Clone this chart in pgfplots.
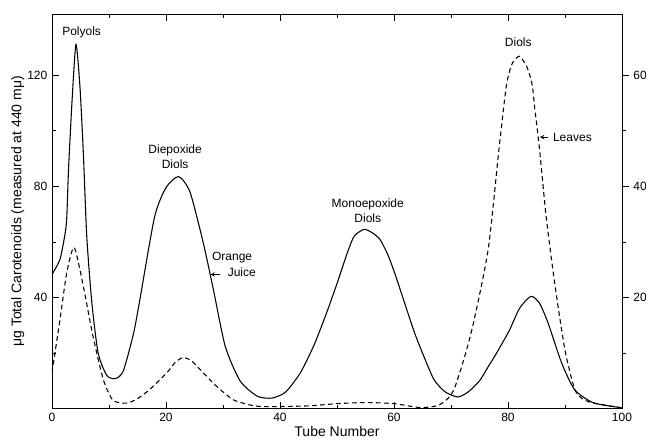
\documentclass[border=0pt]{standalone}
\usepackage{fontspec}
\setmainfont{Liberation Sans}
\usepackage{pgfplots}
\pgfplotsset{compat=1.18}

% orange juice, left axis (ug)
\pgfplotstableread{
x y
0 48.3
1.4 53.7
2.3 63
2.6 69
2.9 86
3.5 110
4.2 131
4.9 116
5.5 92
6.1 62
7.0 38
8.1 20
9.6 12
11.1 10.8
12.5 13.5
14.3 27
15.4 39
18 69
20 79.5
22.2 83.5
24.2 78
26.5 60
28.3 43
30.4 22.4
33 10
36 4.5
38.6 3.8
41 6
43.6 13
46 23
48.2 34.6
50 45
51.8 56
53 62
54.7 64.5
56 63.5
57.5 61
59 55
60.5 46.5
63.4 28.5
65 20
67 10.5
69 6
71.2 4.2
73 6
75 10
76.5 15
78 20
80.2 28
82 36
84 40.4
85.5 38
87 31
89.4 16.5
91.7 6.8
95 2.1
100 0.3
}\juice

% leaves, right axis
\pgfplotstableread{
x y
0 6.5
1.4 16
2.6 24.5
3.9 29
5.5 22
7.2 13
9 5.25
10.7 1.5
13.1 1
15 1.8
17.2 3.5
20.2 6.5
21.6 8.3
23 9.2
24.5 8.6
26.2 6.8
28.9 4
31.8 1.6
35 0.6
37.7 0.35
45 0.5
50 0.9
55 1.1
60 0.9
64.6 0.2
68 0.7
70.5 3.4
73.5 13.5
76.5 28.5
78.4 46.5
79.7 58
80.7 62
82 63.4
83.3 61.5
84.2 58.5
84.7 54
85.5 47
86.7 34.5
88.2 22.5
90 10.5
91.7 3.5
93 1.8
95 1
100 0.15
}\leaves

\begin{document}
\begin{tikzpicture}
\begin{axis}[
    scale only axis,
    width=427.5pt, height=296pt,
    xmin=0, xmax=100,
    ymin=0, ymax=142,
    xtick={0,20,...,100},
    minor xtick={10,30,...,90},
    ytick={40,80,120},
    minor ytick={20,60,100},
    ytick pos=left,
    xtick pos=both,
    tick align=inside,
    major tick length=5pt,
    minor tick length=3pt,
    every tick/.style={black, line width=0.5pt},
    axis line style={line width=0.6pt},
    /pgf/number format/assume math mode=true,
    tick label style={font=\fontsize{9}{10}\selectfont},
    xlabel={Tube Number},
    ylabel={μg Total Carotenoids (measured at 440 mμ)},
    xlabel style={font=\fontsize{10.5}{12}\selectfont, at={(rel axis cs:0.5,-0.058)}, anchor=center},
    ylabel style={font=\fontsize{10.5}{12}\selectfont, at={(rel axis cs:-0.060,0.5)}, anchor=center},
    clip=false,
]
\addplot[black, line width=0.8pt, smooth, tension=0.4] table {\juice};

\coordinate (bl) at (rel axis cs:-0.0912,-0.081);
\coordinate (tr) at (rel axis cs:1.0421,1.0354);

\begin{scope}[font=\fontsize{9}{11}\selectfont]
\node at (axis cs:5.2,135.5) {Polyols};
\node[align=center] at (axis cs:21.6,90.6) {Diepoxide\\Diols};
\node at (axis cs:31.6,54.4) {Orange};
\node at (axis cs:33.3,49) {Juice};
\draw[-stealth, line width=0.5pt] (axis cs:29.4,48.3) -- (axis cs:27.8,48.3);
\node[align=center] at (axis cs:55.4,71.2) {Monoepoxide\\Diols};
\node at (axis cs:81.8,131.9) {Diols};
\node at (axis cs:91.3,97.7) {Leaves};
\draw[-stealth, line width=0.5pt] (axis cs:87.0,97.7) -- (axis cs:85.6,97.7);
\end{scope}
\end{axis}

\begin{axis}[
    scale only axis,
    width=427.5pt, height=296pt,
    xmin=0, xmax=100,
    ymin=0, ymax=71,
    axis x line=none,
    axis y line*=right,
    ytick={20,40,60},
    minor ytick={10,30,50},
    tick align=outside,
    major tick length=5pt,
    minor tick length=3pt,
    every tick/.style={black, line width=0.5pt},
    axis line style={line width=0.6pt},
    /pgf/number format/assume math mode=true,
    tick label style={font=\fontsize{9}{10}\selectfont},
]
\addplot[black, line width=0.8pt, dash pattern=on 3.5pt off 2.5pt, smooth, tension=0.4] table {\leaves};
\end{axis}
\pgfresetboundingbox
\path[use as bounding box] (bl) rectangle (tr);
\end{tikzpicture}
\end{document}
